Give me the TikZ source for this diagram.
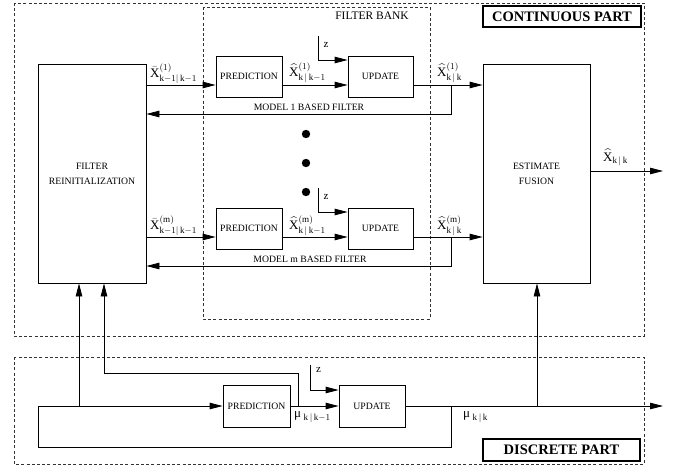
\documentclass[tikz,border=0pt]{standalone}
\usepackage{amsmath}
\usepackage{fontspec}
\setmainfont{Liberation Serif}
\usetikzlibrary{arrows.meta}
\begin{document}
\begin{tikzpicture}[x=1pt,y=-1pt,
  ln/.style={line width=0.8pt},
  arr/.style={ln,-{Triangle[length=13pt,width=6.5pt]}},
  dbox/.style={draw=black!80,line width=0.8pt,dash pattern=on 3pt off 2.2pt},
  blk/.style={draw,line width=0.8pt,inner sep=0pt,font=\fontsize{9.7}{11}\selectfont,align=center},
  lbl/.style={inner sep=0pt,anchor=base west,font=\fontsize{13}{13}\selectfont},
  small/.style={inner sep=0pt,anchor=base,font=\fontsize{9.7}{11}\selectfont},
  zl/.style={inner sep=0pt,anchor=base,font=\fontsize{11}{11}\selectfont},
  part/.style={draw,line width=1.3pt,inner sep=0pt,font=\bfseries\fontsize{14.5}{15}\selectfont}]
\useasboundingbox (0,0) rectangle (676,471);

% dashed regions
\draw[dbox] (14,3) rectangle (644,336);
\draw[dbox] (203,7) rectangle (430,319);
\draw[dbox] (14,357) rectangle (644,464);
\node[inner sep=0pt,anchor=base,font=\fontsize{11.5}{12}\selectfont] (fbank) at (372,19) {FILTER BANK};
\node[part,minimum width=158,minimum height=21] (cont) at (562,16.5) {CONTINUOUS PART};
\node[part,minimum width=157,minimum height=22] (disc) at (561.5,450) {DISCRETE PART};

% blocks
\node[blk,minimum width=108,minimum height=219] (reinit) at (92,173.5) {FILTER\\[4pt]REINITIALIZATION};
\node[blk,minimum width=107,minimum height=219] (fusion) at (536.5,173.5) {ESTIMATE\\[4pt]FUSION};
\node[blk,minimum width=66,minimum height=41] (pred1) at (249,76.5) {PREDICTION};
\node[blk,minimum width=65,minimum height=41] (upd1) at (380.5,76.5) {UPDATE};
\node[blk,minimum width=66,minimum height=41] (predm) at (249,228.5) {PREDICTION};
\node[blk,minimum width=65,minimum height=41] (updm) at (380.5,228.5) {UPDATE};
\node[blk,minimum width=67,minimum height=42] (dpred) at (256.5,406) {PREDICTION};
\node[blk,minimum width=66,minimum height=42] (dupd) at (372,406) {UPDATE};

% helper coordinates
\coordinate (y1) at (0,85);
\coordinate (ym) at (0,237);
\coordinate (fb1) at (0,114);
\coordinate (fbm) at (0,266);
\coordinate (zin1) at (0,60);
\coordinate (zinm) at (0,212);
\coordinate (jx) at (451,0);
\coordinate (z1) at (318,36);
\coordinate (zm) at (318,188);

% model 1 row
\draw[arr] (reinit.east|-y1) -- (pred1.west|-y1);
\draw[arr] (pred1.east|-y1) -- (upd1.west|-y1);
\draw[arr] (upd1.east|-y1) -- (fusion.west|-y1);
\draw[arr] (jx|-y1) -- (jx|-fb1) -- (reinit.east|-fb1);
\draw[arr] (z1) |- (upd1.west|-zin1);
\node[zl] (zt1) at (326,47.5) {z};
\node[small] (m1) at (309,110.5) {MODEL 1 BASED FILTER};

% model m row
\draw[arr] (reinit.east|-ym) -- (predm.west|-ym);
\draw[arr] (predm.east|-ym) -- (updm.west|-ym);
\draw[arr] (updm.east|-ym) -- (fusion.west|-ym);
\draw[arr] (jx|-ym) -- (jx|-fbm) -- (reinit.east|-fbm);
\draw[arr] (zm) |- (updm.west|-zinm);
\node[zl] (ztm) at (326,199.5) {z};
\node[small] (mm) at (310,262.5) {MODEL m BASED FILTER};

% dots
\fill (306,134) circle (4.2);
\fill (306,163) circle (4.2);
\fill (306,192) circle (4.2);

% state labels
\node[lbl] (l11) at (150,77) {$\bar{\mathrm{X}}^{(1)}_{\mathrm{k}-1|\,\mathrm{k}-1}$};
\node[lbl] (l12) at (289,76) {$\widehat{\mathrm{X}}^{(1)}_{\mathrm{k}\,|\,\mathrm{k}-1}$};
\node[lbl] (l13) at (437,76) {$\widehat{\mathrm{X}}^{(1)}_{\mathrm{k}\,|\,\mathrm{k}}$};
\node[lbl] (lm1) at (150,229) {$\bar{\mathrm{X}}^{(\mathrm{m})}_{\mathrm{k}-1|\,\mathrm{k}-1}$};
\node[lbl] (lm2) at (289,229) {$\widehat{\mathrm{X}}^{(\mathrm{m})}_{\mathrm{k}\,|\,\mathrm{k}-1}$};
\node[lbl] (lm3) at (437,229) {$\widehat{\mathrm{X}}^{(\mathrm{m})}_{\mathrm{k}\,|\,\mathrm{k}}$};

% estimate output
\coordinate (eo) at (663,171);
\draw[arr] (fusion.east|-eo) -- (eo);
\node[lbl] (le) at (603,161) {$\widehat{\mathrm{X}}_{\mathrm{k}\,|\,\mathrm{k}}$};

% discrete part
\coordinate (dy) at (0,406);
\coordinate (c79) at (79,406);
\coordinate (c298) at (298,406);
\coordinate (c104) at (104,373);
\coordinate (jd) at (451,406);
\coordinate (lb) at (38,447);
\coordinate (zd) at (310,365);
\coordinate (zdin) at (0,390);
\coordinate (out) at (663,406);
\coordinate (c537) at (537,406);

\draw[arr] (c79) -- (c79|-reinit.south);
\draw[arr] (c298) -- (c298|-c104) -- (c104) -- (c104|-reinit.south);
\draw[arr] (jd) -- (jd|-lb) -- (lb) -- (lb|-dy) -- (dpred.west);
\draw[arr] (dpred.east) -- (dupd.west);
\draw[arr] (zd) |- (dupd.west|-zdin);
\node[zl] (ztd) at (318.5,372.5) {z};
\draw[arr] (dupd.east) -- (out);
\draw[arr] (c537) -- (c537|-fusion.south);

\node[lbl] (mu1) at (294,417) {$\text{μ}_{\;\mathrm{k}\,|\,\mathrm{k}-1}$};
\node[lbl] (mu2) at (463,417) {$\text{μ}_{\;\mathrm{k}\,|\,\mathrm{k}}$};
\end{tikzpicture}
\end{document}
